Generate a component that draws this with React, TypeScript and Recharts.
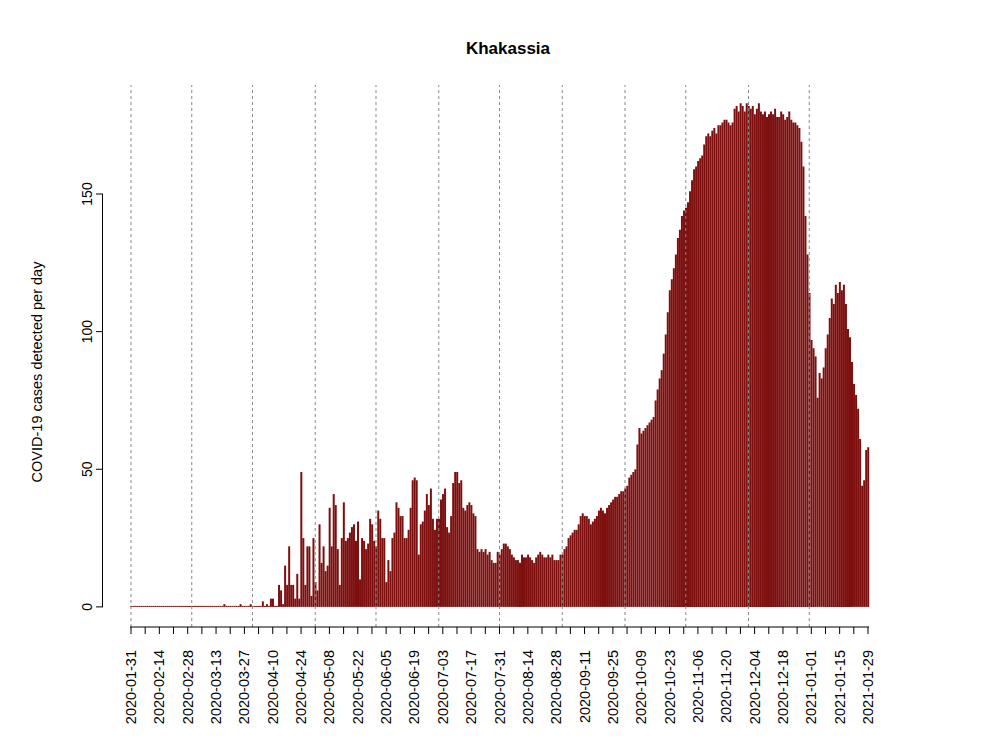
import { BarChart, Bar, XAxis, YAxis, ReferenceLine } from "recharts";

const START = Date.UTC(2020, 0, 31);

// daily detected cases, 2020-01-31 .. 2021-01-29
const earlyDays: number[] = [
  0, 0, 0, 0, 0, 0, 0, 0, 0, 0, 0, 0, 0, 0, 0, 0, 0, 0, 0, 0,
  0, 0, 0, 0, 0, 0, 0, 0, 0, 0, 0, 0, 0, 0, 0, 0, 0, 0, 0, 0,
  0, 0, 0, 0, 0, 0, 1, 0, 0, 0, 0, 0, 0, 0, 1, 0, 0, 0, 0, 1, 0,
];
const spring: number[] = [
  0, 0, 0, 0, 2, 0, 1, 0, 3, 3, 0, 0, 8, 6, 1, 15, 8, 22, 8, 8,
  3, 12, 3, 49, 25, 8, 22, 22, 4, 25, 9, 6, 30, 16, 22, 13, 15, 36, 22, 41,
  37, 21, 8, 25, 38, 24, 25, 27, 29, 30, 24, 31, 10, 25, 24, 21, 23, 32, 30, 24,
  22, 35, 32, 25, 25, 9, 17, 13, 25, 27, 38, 36, 33, 33, 25, 25, 28, 36, 46, 47,
  46, 19, 30, 31, 35, 41, 37, 43, 32, 28, 32, 32,
];
const summer: number[] = [
  39, 41, 43, 29, 27, 33, 45, 49, 49, 45, 46, 36, 35, 37, 38, 37, 34, 33, 21, 20,
  21, 20, 21, 19, 20, 17, 16, 16, 20, 19, 21, 23, 23, 22, 21, 19, 18, 17, 17, 16,
  19, 18, 18, 19, 18, 17, 16, 18, 19, 20, 19, 18, 18, 19, 18, 19, 17, 17, 17, 19,
  19, 21, 22, 25, 26, 27, 28, 28, 30, 33, 34, 33, 33, 32, 30, 31, 32, 33, 35, 36,
  35, 34, 36, 37, 38, 39, 40, 40, 41, 42, 42, 43, 44, 47, 48, 49, 50, 59,
];
const autumnWinter: number[] = [
  65, 63, 64, 65, 66, 67, 68, 69, 75, 79, 83, 86, 92, 99, 107, 115, 119, 123, 128, 134,
  137, 142, 144, 145, 147, 151, 155, 159, 160, 162, 163, 164, 168, 171, 172, 171, 173, 174, 172, 175,
  175, 176, 177, 177, 176, 175, 176, 181, 182, 180, 183, 182, 180, 183, 182, 181, 182, 179,
  181, 183, 180, 179, 180, 178, 179, 180, 179, 181, 178, 178, 180, 179, 177, 178, 180, 177, 176, 176,
  175, 174, 169, 160, 142, 128, 114, 97, 94, 91, 76, 85, 83, 87, 94, 99, 105, 112, 110, 117,
  114, 118, 115, 117, 110, 101, 98, 89, 81, 77, 72, 61, 44, 46, 57, 58,
];

const cases = [...earlyDays, ...spring, ...summer, ...autumnWinter];
const monthStarts = [0, 30, 60, 91, 121, 152, 182, 213, 244, 274, 305, 335];
const yTicks = [0, 50, 100, 150];

const fmt = (i: number) => new Date(START + i * 86400000).toISOString().slice(0, 10);
const data = cases.map((v, i) => ({ day: i, cases: v }));
const weekTicks = data.filter((d) => d.day % 7 === 0).map((d) => d.day);

const XTick = (props: any) => {
  const { x, y, payload } = props;
  if (payload.value % 14 !== 0) return null;
  return (
    <text
      transform={`translate(${x + 5},${y + 14}) rotate(-90)`}
      textAnchor="end"
      fontSize={14.5}
      fontFamily="Liberation Sans, Arial, sans-serif"
      fill="#000"
    >
      {fmt(payload.value)}
    </text>
  );
};

const YTick = (props: any) => {
  const { x, y, payload } = props;
  const ax = x - 27;
  return (
    <g>
      <line x1={ax} x2={ax - 7} y1={y} y2={y} stroke="#000" />
      <text
        transform={`translate(${ax - 11},${y}) rotate(-90)`}
        textAnchor="middle"
        fontSize={14}
        fontFamily="Liberation Sans, Arial, sans-serif"
        fill="#000"
      >
        {payload.value}
      </text>
    </g>
  );
};

export default function App() {
  return (
    <div style={{ position: "relative", width: 1000, height: 750, fontFamily: "Liberation Sans, Arial, sans-serif" }}>
      <div style={{ position: "absolute", top: 31, left: 0, width: 1000, textAlign: "center", fontWeight: "bold", fontSize: 17 }}>
        Khakassia
      </div>
      <div style={{ position: "absolute", left: 29, top: 364, width: 0, height: 0 }}>
        <div style={{ position: "absolute", transform: "translate(-50%,-50%) rotate(-90deg)", whiteSpace: "nowrap", fontSize: 14.5 }}>
          COVID-19 cases detected per day
        </div>
      </div>
      <div style={{ position: "absolute", left: 94, top: 186, width: 1, height: 413, background: "#000" }} />
      <BarChart
        width={1000}
        height={750}
        data={data}
        margin={{ top: 77, right: 139, bottom: 6, left: 121 }}
        barCategoryGap="12%"
      >
        {monthStarts.map((m) => (
          <ReferenceLine key={m} x={m} stroke="#888" strokeDasharray="3 3" />
        ))}
        <XAxis
          dataKey="day"
          ticks={weekTicks}
          interval={0}
          tick={<XTick />}
          tickSize={7}
          height={125}
          axisLine={{ stroke: "#000" }}
          tickLine={{ stroke: "#000" }}
        />
        <YAxis
          width={1}
          domain={[-7.3, 189.6]}
          ticks={yTicks}
          allowDataOverflow
          axisLine={false}
          tickLine={false}
          tickSize={0}
          tickMargin={0}
          tick={<YTick />}
        />
        <Bar dataKey="cases" fill="#7d0f0f" minPointSize={1} isAnimationActive={false} />
      </BarChart>
    </div>
  );
}
